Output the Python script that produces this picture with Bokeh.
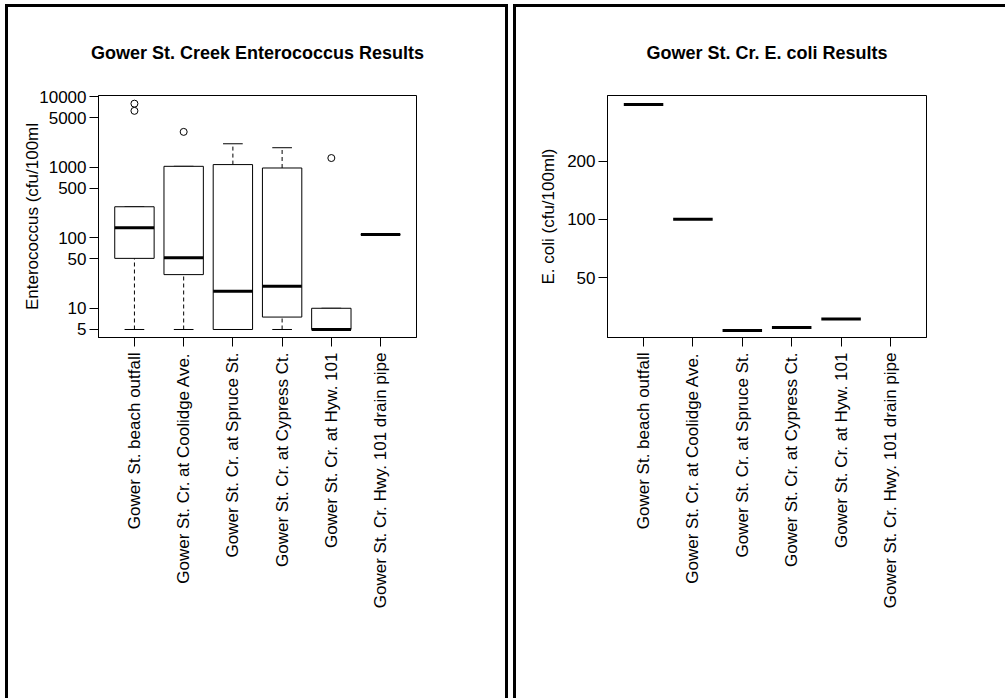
import math

from bokeh.embed import file_html
from bokeh.layouts import row
from bokeh.models import FixedTicker, NumeralTickFormatter
from bokeh.plotting import figure
from bokeh.resources import INLINE

# Sampling sites along Gower St. Creek
sites = [
    "Gower St. beach outfall",
    "Gower St. Cr. at Coolidge Ave.",
    "Gower St. Cr. at Spruce St.",
    "Gower St. Cr. at Cypress Ct.",
    "Gower St. Cr. at Hyw. 101",
    "Gower St. Cr. Hwy. 101 drain pipe",
]

# Enterococcus box statistics (cfu/100ml)
ent_lower_whisker = [5, 5, 5, 5, 5, 111]
ent_q1 = [51, 30, 5, 7.5, 5, 111]
ent_median = [139, 52, 17.5, 20.5, 5, 111]
ent_q3 = [275, 1030, 1090, 975, 10, 111]
ent_upper_whisker = [275, 1030, 2150, 1890, 10, 111]
ent_outlier_site = [sites[0], sites[0], sites[1], sites[4]]
ent_outlier_value = [7970, 6300, 3170, 1350]
ent_ticks = [5, 10, 50, 100, 500, 1000, 5000, 10000]

# E. coli results (one sample per site; none at the drain pipe)
ecoli_value = [393, 100, 26.6, 27.6, 30.5, None]
ecoli_ticks = [50, 100, 200]

FONT = "Liberation Sans"
BOX_W = 0.8
CAP_W = 0.4
positions = [i + 1 for i in range(len(sites))]
labels = {pos: name for pos, name in zip(positions, sites)}


def panel(width, frame_left, frame_right, y_range, title, ylabel, ticks,
          label_standoff, margin, styles):
    p = figure(
        width=width, height=694,
        x_range=(0.27, 6.73), y_range=y_range, y_axis_type="log",
        output_backend="svg", toolbar_location=None,
        min_border_left=frame_left, min_border_right=frame_right,
        min_border_top=87, min_border_bottom=364,
        background_fill_color="white", border_fill_color="white",
        margin=margin, styles=styles,
    )
    p.grid.visible = False
    p.outline_line_color = "black"
    p.outline_line_width = 1
    p.outline_line_alpha = 1

    p.title.text = title
    p.title.align = "center"
    p.title.text_font = FONT
    p.title.text_font_size = "18px"
    p.title.text_font_style = "bold"
    p.title.text_color = "black"
    p.title.standoff = 66

    for ax in (p.xaxis[0], p.yaxis[0]):
        ax.axis_line_color = "black"
        ax.major_tick_line_color = "black"
        ax.major_tick_in = 0
        ax.major_tick_out = 9
        ax.minor_tick_line_color = None
        ax.major_label_text_font = FONT
        ax.major_label_text_font_size = "17px"
        ax.major_label_text_color = "black"

    xa = p.xaxis[0]
    xa.ticker = FixedTicker(ticks=positions)
    xa.major_label_overrides = labels
    xa.major_label_orientation = math.pi / 2
    xa.major_label_standoff = 6

    ya = p.yaxis[0]
    ya.ticker = FixedTicker(ticks=ticks)
    ya.formatter = NumeralTickFormatter(format="0")
    ya.major_label_standoff = 3
    ya.axis_label = ylabel
    ya.axis_label_text_font = FONT
    ya.axis_label_text_font_size = "17px"
    ya.axis_label_text_font_style = "normal"
    ya.axis_label_text_color = "black"
    ya.axis_label_standoff = label_standoff
    return p


BORDER = "3px solid black"

# ---- Enterococcus boxplot ----
left = panel(503, 90, 95, (3.85, 10400), "Gower St. Creek Enterococcus Results",
             "Enterococcus (cfu/100ml", ent_ticks, -6,
             margin=(4, 0, 0, 5),
             styles={"border-left": BORDER, "border-top": BORDER, "border-right": BORDER})

lo = [x - BOX_W / 2 for x in positions]
hi = [x + BOX_W / 2 for x in positions]
clo = [x - CAP_W / 2 for x in positions]
chi = [x + CAP_W / 2 for x in positions]

# dashed whiskers
left.segment(x0=positions, x1=positions, y0=ent_q3, y1=ent_upper_whisker,
             line_color="black", line_width=1, line_dash="4 3")
left.segment(x0=positions, x1=positions, y0=ent_lower_whisker, y1=ent_q1,
             line_color="black", line_width=1, line_dash="4 3")
# whisker caps
left.segment(x0=clo, x1=chi, y0=ent_upper_whisker, y1=ent_upper_whisker,
             line_color="black", line_width=1)
left.segment(x0=clo, x1=chi, y0=ent_lower_whisker, y1=ent_lower_whisker,
             line_color="black", line_width=1)
# boxes
left.quad(left=lo, right=hi, bottom=ent_q1, top=ent_q3,
          fill_color="white", line_color="black", line_width=1)
# medians
left.segment(x0=lo, x1=hi, y0=ent_median, y1=ent_median,
             line_color="black", line_width=3)
# outliers
out_x = [sites.index(s) + 1 for s in ent_outlier_site]
left.scatter(x=out_x, y=ent_outlier_value, marker="circle", size=7,
             fill_color=None, line_color="black", line_width=1)

# ---- E. coli results ----
right = panel(492, 91, 82, (24.5, 437), "Gower St. Cr. E. coli Results",
              "E. coli (cfu/100ml)", ecoli_ticks, 6,
              margin=(4, 0, 0, 5),
              styles={"border-left": BORDER, "border-top": BORDER})

ec_pos = [p for p, v in zip(positions, ecoli_value) if v is not None]
ec_val = [v for v in ecoli_value if v is not None]
right.segment(x0=[x - BOX_W / 2 for x in ec_pos], x1=[x + BOX_W / 2 for x in ec_pos],
              y0=ec_val, y1=ec_val, line_color="black", line_width=3)

page = row(left, right, spacing=0)
open("out.html", "w").write(file_html(page, INLINE))
